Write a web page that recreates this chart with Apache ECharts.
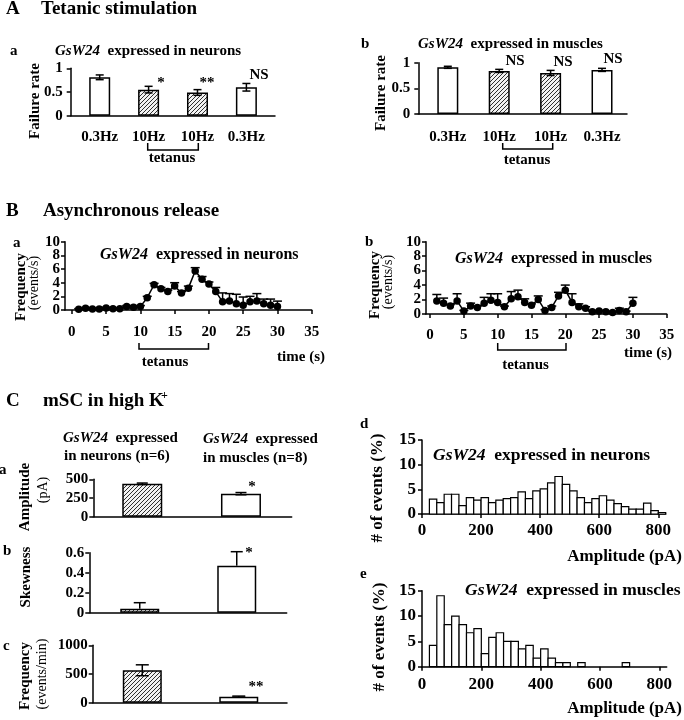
<!DOCTYPE html>
<html><head><meta charset="utf-8">
<script src="https://cdn.jsdelivr.net/npm/echarts@6/dist/echarts.min.js"></script>
<style>html,body{margin:0;padding:0;background:#fff}#c{width:684px;height:720px}</style>
</head><body><div id="c"></div>
<script>
const F = '"Liberation Serif", "Times New Roman", serif';

// ---------- Panel A : tetanic stimulation ----------
const A_CATEGORIES = ['0.3Hz', '10Hz', '10Hz', '0.3Hz'];
const A_POSITIONS = [1, 2, 3, 4];
const A_HATCHED = [false, true, true, false];
const Aa_VALUES = [0.81, 0.55, 0.49, 0.60];
const Aa_ERRORS = [0.05, 0.07, 0.06, 0.08];
const Ab_VALUES = [0.91, 0.84, 0.80, 0.86];
const Ab_ERRORS = [0.02, 0.03, 0.05, 0.03];

// ---------- Panel B : asynchronous release ----------
const B_TIME = [1,2,3,4,5,6,7,8,9,10,11,12,13,14,15,16,17,18,19,20,21,22,23,24,25,26,27,28,29,30];
const Ba_FREQ = [0.1,0.25,0.15,0.15,0.3,0.2,0.2,0.5,0.4,0.5,1.8,3.7,3.1,2.7,3.5,2.5,3.2,5.7,4.5,3.8,2.7,1.2,1.3,0.9,0.7,1.2,1.3,0.9,0.7,0.5];
const Ba_ERR  = [0.1,0.1,0.1,0.1,0.1,0.1,0.1,0.15,0.1,0.15,0.2,0.2,0.2,0.2,0.5,0.2,0.3,0.5,0.4,0.3,0.6,1.3,1.1,1.4,1.2,0.8,1.1,0.7,0.9,0.8];
const Bb_FREQ = [1.8,1.5,1.1,1.8,0.4,1.1,0.9,1.5,1.9,1.6,1.0,2.1,2.4,1.6,1.2,2.0,0.5,0.9,2.5,3.3,1.6,1.0,0.8,0.3,0.4,0.3,0.2,0.5,0.3,1.5];
const Bb_ERR  = [0.9,0.7,0.2,1.0,0.1,0.4,0.2,0.8,0.9,1.2,0.1,1.0,0.9,0.5,0.2,0.5,0.1,0.2,0.5,0.7,1.2,0.4,0.2,0.1,0.1,0.1,0.1,0.3,0.1,0.8];
const B_X_TICKS = [0,5,10,15,20,25,30,35];
const B_Y_TICKS = [0,2,4,6,8,10];

// ---------- Panel C : mSC in high K+ ----------
const C_POSITIONS = [1, 2];
const C_HATCHED = [true, false];
const Ca_AMPLITUDE = [440, 308];
const Ca_ERR = [10, 15];
const Cb_SKEWNESS = [0.04, 0.47];
const Cb_ERR = [0.06, 0.14];
const Cc_FREQUENCY = [565, 105];
const Cc_ERR = [95, 10];

const HIST_BIN_WIDTH = 25;
const HIST_BIN_START = [25,50,75,100,125,150,175,200,225,250,275,300,325,350,375,400,425,450,475,500,525,550,575,600,625,650,675,700,725,750,775,800];
const Cd_PERCENT = [3.0,2.3,4.0,4.0,1.7,3.3,2.8,3.3,2.3,2.8,3.1,3.3,4.5,3.1,4.7,5.1,6.3,7.6,6.0,4.7,3.3,2.3,3.1,3.7,2.8,2.1,1.5,1.0,1.0,2.2,0.7,0.3];
const Ce_PERCENT = [4.2,14.0,8.3,10.0,8.3,6.7,7.5,2.6,5.8,6.7,5.0,5.0,3.5,4.2,1.7,3.5,1.7,0.8,0.8,0,0.8,0,0,0,0,0,0.8,0,0,0,0,0];
const HIST_X_TICKS = [0,200,400,600,800];

// ---------- helpers ----------
function makeHatch() {
  const c = document.createElement('canvas');
  c.width = 4; c.height = 4;
  const g = c.getContext('2d');
  g.fillStyle = '#f2f2f2'; g.fillRect(0, 0, 4, 4);
  g.strokeStyle = '#1a1a1a'; g.lineWidth = 0.9;
  g.beginPath();
  g.moveTo(0, 4); g.lineTo(4, 0);
  g.moveTo(-1, 1); g.lineTo(1, -1);
  g.moveTo(3, 5); g.lineTo(5, 3);
  g.stroke();
  return c;
}
const HATCH = { image: makeHatch(), repeat: 'repeat' };
const BLACK = '#000';

function grid(left, top, width, height) {
  return { left, top, width, height, containLabel: false, outerBoundsMode: 'none' };
}
function yAxis(gi, min, max, interval, margin, fontSize, hideLabels) {
  return {
    type: 'value', gridIndex: gi, min, max, interval,
    axisLine: { show: true, onZero: false, lineStyle: { color: BLACK, width: 1.5 } },
    axisTick: { show: true, length: 4, lineStyle: { color: BLACK, width: 1.5 } },
    axisLabel: { show: !hideLabels, color: BLACK, fontFamily: F, fontWeight: 'bold', fontSize: fontSize || 15, margin,
                 showMinLabel: true, showMaxLabel: true, hideOverlap: false,
                 formatter: v => String(+(+v).toFixed(4)) },
    splitLine: { show: false }
  };
}
function xAxisCat(gi, min, max, positions, labels, margin) {
  return {
    type: 'value', gridIndex: gi, min, max,
    axisLine: { show: true, onZero: false, lineStyle: { color: BLACK, width: 1.5 } },
    axisTick: { show: false },
    axisLabel: labels ? {
      show: true, color: BLACK, fontFamily: F, fontWeight: 'bold', fontSize: 15, margin,
      customValues: positions, formatter: v => labels[positions.indexOf(Math.round(v))]
    } : { show: false },
    splitLine: { show: false }
  };
}
function xAxisVal(gi, min, max, ticks, margin, fontSize) {
  return {
    type: 'value', gridIndex: gi, min, max,
    axisLine: { show: true, onZero: false, lineStyle: { color: BLACK, width: 1.5 } },
    axisTick: { show: true, length: 4, customValues: ticks, lineStyle: { color: BLACK, width: 1.5 } },
    axisLabel: { show: true, customValues: ticks, color: BLACK, fontFamily: F, fontWeight: 'bold', fontSize: fontSize || 15, margin,
                 hideOverlap: false, formatter: v => String(v) },
    splitLine: { show: false }
  };
}
// y tick labels drawn through the y scale (avoids automatic overlap hiding)
function yLabelSeries(gi, ticks, xAtAxis, gap) {
  return {
    type: 'custom', xAxisIndex: gi, yAxisIndex: gi, z: 6, clip: false, silent: true,
    encode: { x: 0, y: 1 },
    data: ticks.map(v => [xAtAxis, v]),
    renderItem: function (params, api) {
      const p = api.coord([api.value(0), api.value(1)]);
      return { type: 'text', x: params.coordSys.x - gap, y: p[1],
               style: { text: String(api.value(1)), fill: BLACK, fontFamily: F, fontWeight: 'bold', fontSize: 15,
                        align: 'right', verticalAlign: 'middle' } };
    }
  };
}
function barSeries(gi, positions, values, hatched, width) {
  return {
    type: 'bar', xAxisIndex: gi, yAxisIndex: gi, barWidth: width, z: 2,
    itemStyle: { borderColor: BLACK, borderWidth: 1.5 },
    data: positions.map((p, i) => ({ value: [p, values[i]], itemStyle: { color: hatched[i] ? HATCH : '#fff' } }))
  };
}
function errSeries(gi, xs, values, errs, capW, upperOnly) {
  return {
    type: 'custom', xAxisIndex: gi, yAxisIndex: gi, z: 5,
    encode: { x: 0, y: 1 },
    data: xs.map((x, i) => [x, values[i], errs[i]]),
    renderItem: function (params, api) {
      const x = api.value(0), v = api.value(1), e = api.value(2);
      const top = api.coord([x, v + e]);
      const bot = upperOnly ? api.coord([x, v]) : api.coord([x, v - e]);
      const st = { stroke: BLACK, lineWidth: 1.5 };
      const ch = [
        { type: 'line', shape: { x1: top[0], y1: top[1], x2: bot[0], y2: bot[1] }, style: st },
        { type: 'line', shape: { x1: top[0] - capW / 2, y1: top[1], x2: top[0] + capW / 2, y2: top[1] }, style: st }
      ];
      if (!upperOnly) ch.push({ type: 'line', shape: { x1: bot[0] - capW / 2, y1: bot[1], x2: bot[0] + capW / 2, y2: bot[1] }, style: st });
      return { type: 'group', children: ch };
    }
  };
}
function lineSeries(gi, xs, ys) {
  return {
    type: 'line', xAxisIndex: gi, yAxisIndex: gi, z: 4,
    symbol: 'circle', symbolSize: 7.5, showSymbol: true,
    itemStyle: { color: BLACK }, lineStyle: { color: BLACK, width: 1.5 },
    data: xs.map((x, i) => [x, ys[i]])
  };
}
function histSeries(gi, starts, pct) {
  return {
    type: 'custom', xAxisIndex: gi, yAxisIndex: gi, z: 3,
    encode: { x: [0, 1], y: 2 },
    data: starts.map((s, i) => [s, s + HIST_BIN_WIDTH, pct[i]]),
    renderItem: function (params, api) {
      const v = api.value(2);
      if (!(v > 0)) return null;
      const p0 = api.coord([api.value(0), v]);
      const p1 = api.coord([api.value(1), 0]);
      return { type: 'rect', shape: { x: p0[0], y: p0[1], width: p1[0] - p0[0], height: p1[1] - p0[1] },
               style: { fill: '#fff', stroke: BLACK, lineWidth: 1.2 } };
    }
  };
}
// text helpers
function T(x, y, text, o) {
  o = o || {};
  return { type: 'text', x, y, rotation: o.rot || 0, z: 10,
    style: { text, fill: BLACK, fontFamily: F, fontWeight: o.normal ? 'normal' : 'bold', fontSize: o.size || 15,
             align: o.align || 'left', verticalAlign: 'middle' } };
}
function GS(x, y, rest, size, align) {
  return { type: 'text', x, y, z: 10,
    style: { text: '{i|GsW24}  ' + rest, fill: BLACK, fontFamily: F, fontWeight: 'bold', fontSize: size,
             align: align || 'left', verticalAlign: 'middle',
             rich: { i: { fontStyle: 'italic', fontWeight: 'bold', fontFamily: F, fontSize: size, fill: BLACK } } } };
}
function bracket(x1, x2, y1, y2) {
  return { type: 'polyline', z: 10, shape: { points: [[x1, y1], [x1, y2], [x2, y2], [x2, y1]] },
           style: { stroke: BLACK, lineWidth: 1.5, fill: null } };
}

const R = Math.PI / 2;
const graphics = [
  // A
  T(6, 9.5, 'A', { size: 19 }), T(41, 9.5, 'Tetanic stimulation', { size: 19 }),
  T(10, 51, 'a'), GS(55, 51, 'expressed in neurons', 15),
  T(361, 44, 'b'), GS(418, 44, 'expressed in muscles', 15),
  T(35, 101, 'Failure rate', { rot: R, align: 'center' }),
  T(381, 93, 'Failure rate', { rot: R, align: 'center' }),
  T(161, 83, '*', { align: 'center' }), T(207, 83, '**', { align: 'center' }), T(259, 75, 'NS', { align: 'center' }),
  T(515, 61, 'NS', { align: 'center' }), T(563, 62, 'NS', { align: 'center' }), T(613, 59, 'NS', { align: 'center' }),
  bracket(147.7, 198.3, 143, 150), T(172, 158, 'tetanus', { align: 'center' }),
  bracket(502.7, 552.7, 143, 149), T(527, 160, 'tetanus', { align: 'center' }),
  // B
  T(6, 211.5, 'B', { size: 19 }), T(43, 211.5, 'Asynchronous release', { size: 19 }),
  T(13, 243.5, 'a'), T(365, 242.5, 'b'),
  GS(100, 254.5, 'expressed in neurons', 16), GS(455, 258.5, 'expressed in muscles', 16),
  T(21, 287, 'Frequency', { rot: R, align: 'center' }), T(34, 283, '(events/s)', { rot: R, align: 'center', normal: true, size: 14 }),
  T(375, 285, 'Frequency', { rot: R, align: 'center' }), T(388, 282, '(events/s)', { rot: R, align: 'center', normal: true, size: 14 }),
  T(325, 357, 'time (s)', { align: 'right' }), T(672, 353, 'time (s)', { align: 'right' }),
  bracket(139, 208.5, 343, 349), T(165, 362, 'tetanus', { align: 'center' }),
  bracket(497.7, 566, 343, 350), T(525.5, 365, 'tetanus', { align: 'center' }),
  // C
  T(6, 401.5, 'C', { size: 19 }), T(43, 401.5, 'mSC in high K', { size: 19 }), T(161, 396, '+', { size: 12 }),
  GS(63, 438.5, 'expressed', 15), T(64, 456, 'in neurons (n=6)'),
  GS(203, 439.5, 'expressed', 15), T(203, 458.5, 'in muscles (n=8)'),
  T(-1, 470, 'a'), T(3, 551, 'b'), T(3, 646.5, 'c'),
  T(25, 497, 'Amplitude', { rot: R, align: 'center' }), T(43, 490, '(pA)', { rot: R, align: 'center', normal: true, size: 14 }),
  T(26, 577, 'Skewness', { rot: R, align: 'center' }),
  T(25, 676, 'Frequency', { rot: R, align: 'center' }), T(42.5, 674, '(events/min)', { rot: R, align: 'center', normal: true, size: 14 }),
  T(252, 487, '*', { align: 'center' }), T(249, 553, '*', { align: 'center' }), T(256, 687, '**', { align: 'center' }),
  // d / e
  T(360, 424, 'd'), GS(433, 455, 'expressed in neurons', 17.5),
  T(378, 488, '# of events (%)', { rot: R, align: 'center', size: 17 }),
  T(682, 556.7, 'Amplitude (pA)', { align: 'right', size: 17 }),
  T(360, 574, 'e'), GS(465, 590.7, 'expressed in muscles', 17.5),
  T(380, 637, '# of events (%)', { rot: R, align: 'center', size: 17 }),
  T(682, 708.3, 'Amplitude (pA)', { align: 'right', size: 17 })
];

const option = {
  animation: false,
  backgroundColor: '#fff',
  grid: [
    grid(70.7, 68.3, 204.3, 47.4),
    grid(418.3, 62.7, 208.7, 51.3),
    grid(65, 241.7, 246.7, 68.3),
    grid(426, 241.7, 240.7, 72.3),
    grid(93.3, 479.3, 198.4, 37.4),
    grid(89.3, 552.7, 197.4, 60),
    grid(92.7, 645.3, 194.3, 57.4),
    grid(422, 440, 243.7, 74),
    grid(422, 590.7, 244.7, 76)
  ],
  xAxis: [
    xAxisCat(0, 0.407, 4.585, A_POSITIONS, A_CATEGORIES, 14),
    xAxisCat(1, 0.426, 4.486, A_POSITIONS, A_CATEGORIES, 16),
    xAxisVal(2, -1, 35, B_X_TICKS, 15),
    xAxisVal(3, -0.6, 35, B_X_TICKS, 14),
    xAxisCat(4, 0.504, 2.514, C_POSITIONS, null),
    xAxisCat(5, 0.48, 2.515, C_POSITIONS, null),
    xAxisCat(6, 0.486, 2.5, C_POSITIONS, null),
    xAxisVal(7, 0, 825, HIST_X_TICKS, 8, 17),
    xAxisVal(8, 0, 825, HIST_X_TICKS, 9, 17)
  ],
  yAxis: [
    yAxis(0, 0, 1, 0.5, 8),
    yAxis(1, 0, 1, 0.5, 8),
    yAxis(2, 0, 10, 2, 5, 15, true),
    yAxis(3, 0, 10, 2, 5, 15, true),
    yAxis(4, 0, 500, 250, 5),
    yAxis(5, 0, 0.6, 0.2, 5),
    yAxis(6, 0, 1000, 500, 5),
    yAxis(7, 0, 15, 5, 6, 17),
    yAxis(8, 0, 15, 5, 6, 17)
  ],
  series: [
    barSeries(0, A_POSITIONS, Aa_VALUES, A_HATCHED, 21),
    errSeries(0, A_POSITIONS, Aa_VALUES, Aa_ERRORS, 8, false),
    barSeries(1, A_POSITIONS, Ab_VALUES, A_HATCHED, 21),
    errSeries(1, A_POSITIONS, Ab_VALUES, Ab_ERRORS, 8, false),
    errSeries(2, B_TIME, Ba_FREQ, Ba_ERR, 9, true),
    lineSeries(2, B_TIME, Ba_FREQ),
    yLabelSeries(2, B_Y_TICKS, -1, 5),
    errSeries(3, B_TIME, Bb_FREQ, Bb_ERR, 9, true),
    lineSeries(3, B_TIME, Bb_FREQ),
    yLabelSeries(3, B_Y_TICKS, -0.6, 5),
    barSeries(4, C_POSITIONS, Ca_AMPLITUDE, C_HATCHED, 40),
    errSeries(4, C_POSITIONS, Ca_AMPLITUDE, Ca_ERR, 11, false),
    barSeries(5, C_POSITIONS, Cb_SKEWNESS, C_HATCHED, 39),
    errSeries(5, C_POSITIONS, Cb_SKEWNESS, Cb_ERR, 12, true),
    barSeries(6, C_POSITIONS, Cc_FREQUENCY, C_HATCHED, 39),
    errSeries(6, C_POSITIONS, Cc_FREQUENCY, Cc_ERR, 13, false),
    histSeries(7, HIST_BIN_START, Cd_PERCENT),
    histSeries(8, HIST_BIN_START, Ce_PERCENT)
  ],
  graphic: graphics
};
const chart = echarts.init(document.getElementById('c'), null, { renderer: 'canvas' });
chart.setOption(option);
</script></body></html>
